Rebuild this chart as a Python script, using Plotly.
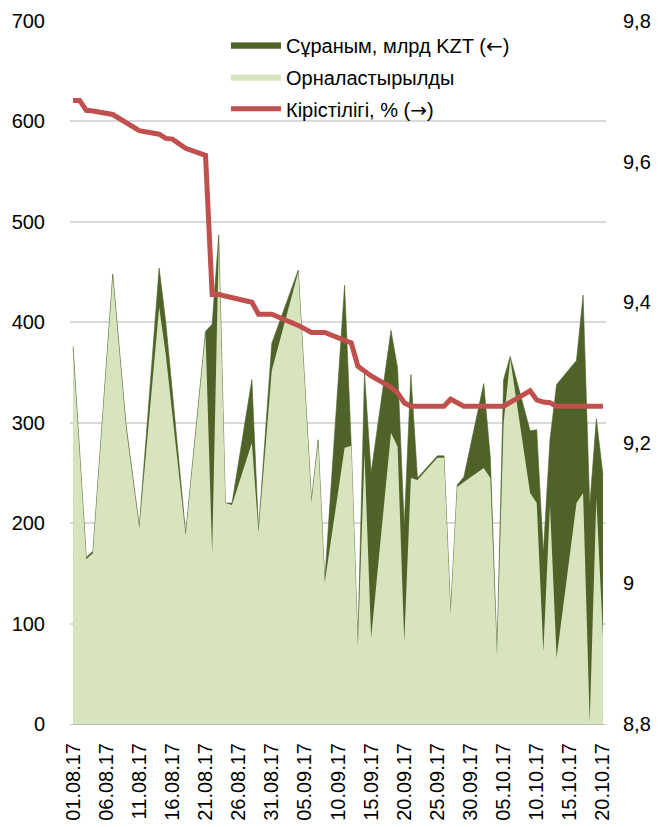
import plotly.graph_objects as go

dates = [
    "2017-08-01", "2017-08-02", "2017-08-03", "2017-08-04", "2017-08-07", "2017-08-09",
    "2017-08-11", "2017-08-14", "2017-08-15", "2017-08-16", "2017-08-18", "2017-08-21",
    "2017-08-22", "2017-08-23", "2017-08-24", "2017-08-25", "2017-08-28", "2017-08-29",
    "2017-08-31", "2017-09-04", "2017-09-06", "2017-09-07", "2017-09-08", "2017-09-11",
    "2017-09-12", "2017-09-13", "2017-09-14", "2017-09-15", "2017-09-18", "2017-09-19",
    "2017-09-20", "2017-09-21", "2017-09-22", "2017-09-25", "2017-09-26", "2017-09-27",
    "2017-09-28", "2017-09-29", "2017-10-02", "2017-10-03", "2017-10-04", "2017-10-05",
    "2017-10-06", "2017-10-09", "2017-10-10", "2017-10-11", "2017-10-12", "2017-10-13",
    "2017-10-16", "2017-10-17", "2017-10-18", "2017-10-19", "2017-10-20",
]

demand = [
    376, None, 166, 172, 448, 298,
    197, 454, 400, None, 190, 391,
    398, 487, 220, 220, 343, 193,
    379, 452, 223, 283, 143, 437,
    277, 80, 349, 250, 392, 354,
    197, 348, 245, 267, 267, 112,
    238, 246, 339, 265, 71, 343,
    366, 292, 293, 170, 283, 338,
    362, 427, 217, 304, 248,
]

placed = [
    372, None, 164, 170, 445, 295,
    195, 415, 368, None, 188, 388,
    170, 480, 220, 218, 280, 191,
    352, 450, 221, 281, 141, 275,
    277, 78, 270, 86, 290, 276,
    82, 245, 243, 265, 265, 110,
    236, 241, 255, 245, 69, 300,
    364, 230, 220, 72, 218, 66,
    220, 230, 2, 225, 87,
]

yield_pct = [
    9.687, 9.687, 9.673, 9.672, 9.667, None,
    9.644, 9.639, 9.633, 9.632, 9.619, 9.609,
    9.411, 9.411, None, None, 9.400, 9.383,
    9.383, 9.367, 9.357, None, 9.357, 9.347,
    9.342, 9.309, None, 9.295, 9.279, 9.271,
    9.257, 9.252, None, None, 9.252, 9.262,
    None, 9.252, None, None, None, 9.252,
    None, 9.274, 9.261, 9.258, 9.257, 9.252,
    None, None, None, None, 9.252,
]

left_ticks = [0, 100, 200, 300, 400, 500, 600, 700]
right_ticks = [8.8, 9.0, 9.2, 9.4, 9.6, 9.8]
ARW = '<span style="font-family:DejaVu Sans">{}</span>'
names = [
    "Сұраным, млрд KZT (" + ARW.format("←") + ")",
    "Орналастырылды",
    "Кірістілігі, % (" + ARW.format("→") + ")",
]


def pick(xs, ys):
    pairs = [(x, y) for x, y in zip(xs, ys) if y is not None]
    return [p[0] for p in pairs], [p[1] for p in pairs]


FONT = "Liberation Sans, Arial, DejaVu Sans, sans-serif"

fig = go.Figure()
dx, dy = pick(dates, demand)
fig.add_trace(go.Scatter(
    x=dx, y=dy, name=names[0], mode="lines", fill="tozeroy", legendgroup="a",
    line=dict(width=0.6, color="#4F6228"), fillcolor="#4F6228",
))
px, py = pick(dates, placed)
fig.add_trace(go.Scatter(
    x=px, y=py, name=names[1], mode="lines", fill="tozeroy", legendgroup="b",
    line=dict(width=0, color="#D7E4BD"), fillcolor="#D7E4BD",
))
yx, yy = pick(dates, yield_pct)
fig.add_trace(go.Scatter(
    x=yx, y=yy, name=names[2], mode="lines", yaxis="y2", legendgroup="c",
    line=dict(width=5, color="#C0504D"),
))

fig.update_layout(
    width=663, height=827,
    margin=dict(l=70, r=57, t=21, b=103, autoexpand=False),
    paper_bgcolor="white", plot_bgcolor="white",
    separators=", ",
    font=dict(family=FONT, size=20, color="black"),
    showlegend=True,
    legend=dict(
        x=0.291, y=0.994, xanchor="left", yanchor="top",
        bgcolor="rgba(0,0,0,0)", font=dict(size=20),
        tracegroupgap=3, itemwidth=50,
    ),
    xaxis=dict(
        type="date", automargin=False,
        range=["2017-07-31 13:00", "2017-10-20 11:00"],
        tick0="2017-08-01", dtick=5 * 86400000,
        tickformat="%d.%m.%y", tickangle=-90,
        showgrid=False, zeroline=False,
        showline=True, linecolor="#bfbfbf", linewidth=1,
        ticks="outside", ticklen=10, tickcolor="rgba(0,0,0,0)",
        tickfont=dict(size=20),
    ),
    yaxis=dict(
        range=[0, 700], tickvals=left_ticks, automargin=False,
        showgrid=True, gridcolor="#d9d9d9", gridwidth=1.5,
        zeroline=False, showline=False,
        ticks="outside", ticklen=20, tickcolor="rgba(0,0,0,0)",
        tickfont=dict(size=20),
    ),
    yaxis2=dict(
        range=[8.8, 9.8], tickvals=right_ticks, automargin=False,
        overlaying="y", side="right",
        showgrid=False, zeroline=False, showline=False,
        ticks="outside", ticklen=12, tickcolor="rgba(0,0,0,0)",
        tickfont=dict(size=20),
    ),
)

fig.write_html(
    "out.html",
    config={"displayModeBar": False},
    post_script="document.body.style.margin='0';document.body.style.overflow='hidden';",
)
